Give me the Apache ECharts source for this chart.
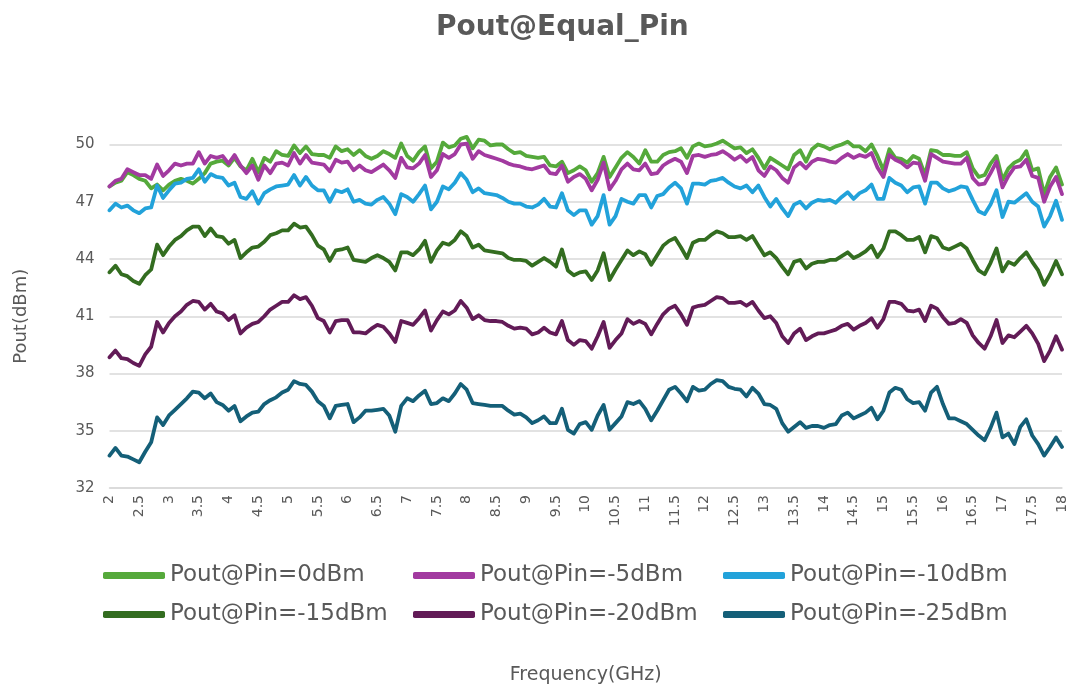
<!DOCTYPE html>
<html>
<head>
<meta charset="utf-8">
<title>Pout@Equal_Pin</title>
<script src="https://cdn.jsdelivr.net/npm/echarts@6/dist/echarts.min.js"></script>
<style>
  html, body { margin: 0; padding: 0; background: #fff; }
  #main { width: 1071px; height: 690px; }
</style>
</head>
<body>
<div id="main"></div>
<script>
// frequency axis: 2 .. 18 GHz in 0.1 GHz steps, label every 0.5 GHz
const fStart = 2, fStep = 0.1, fCount = 161;
const freqs = [];
for (let i = 0; i < fCount; i++) freqs.push(String(+(fStart + i * fStep).toFixed(1)));

const names = ['Pout@Pin=0dBm', 'Pout@Pin=-5dBm', 'Pout@Pin=-10dBm',
               'Pout@Pin=-15dBm', 'Pout@Pin=-20dBm', 'Pout@Pin=-25dBm'];
const colors = ['#55a93b', '#a23aa0', '#22a2da', '#336d20', '#621b57', '#145f78'];
const yTicks = [32, 35, 38, 41, 44, 47, 50];

const pin0 = [
  47.8, 48.0, 48.1, 48.55, 48.4, 48.2, 48.1, 47.7, 47.9, 47.6, 47.9, 48.1, 48.2, 48.1, 47.95, 48.2, 48.5, 49.0, 49.1, 49.15, 48.9, 49.3, 48.85, 48.65, 49.25, 48.55, 49.3,
  49.1, 49.65, 49.45, 49.4, 49.95, 49.55, 49.9, 49.5, 49.45, 49.45, 49.3, 49.9, 49.65, 49.75, 49.45, 49.7, 49.4, 49.25, 49.4, 49.65, 49.5, 49.3, 50.05, 49.4, 49.15, 49.6,
  49.9, 48.75, 49.1, 50.1, 49.85, 49.95, 50.3, 50.4, 49.8, 50.25, 50.2, 49.95, 50.0, 50.0, 49.75, 49.55, 49.6, 49.4, 49.35, 49.3, 49.35, 48.9, 48.85, 49.1, 48.5, 48.65, 48.85,
  48.65, 48.05, 48.5, 49.35, 48.3, 48.8, 49.3, 49.6, 49.35, 49.0, 49.7, 49.1, 49.1, 49.45, 49.6, 49.65, 49.8, 49.3, 49.9, 50.05, 49.9, 49.95, 50.05, 50.2, 50.0, 49.8,
  49.85, 49.55, 49.75, 49.3, 48.75, 49.3, 49.1, 48.9, 48.7, 49.45, 49.7, 49.1, 49.75, 50.0, 49.9, 49.75, 49.9, 50.0, 50.15, 49.9, 49.9, 49.65, 50.0, 49.4, 48.65, 49.75,
  49.3, 49.25, 49.05, 49.4, 49.25, 48.4, 49.7, 49.65, 49.45, 49.45, 49.4, 49.4, 49.6, 48.75, 48.3, 48.4, 49.0, 49.4, 48.15, 48.75, 49.05, 49.2, 49.65, 48.65, 48.75, 47.4, 48.3, 48.8, 47.9
];
const pin5 = [
  47.8, 48.1, 48.2, 48.7, 48.55, 48.4, 48.4, 48.2, 48.95, 48.35, 48.65, 49.0, 48.9, 49.0, 49.0, 49.6, 49.0, 49.4, 49.3, 49.4, 49.0, 49.45, 48.9, 48.5, 48.9, 48.15, 48.9,
  48.5, 49.0, 49.05, 48.9, 49.55, 49.0, 49.45, 49.05, 49.0, 48.95, 48.6, 49.2, 49.05, 49.1, 48.65, 48.9, 48.65, 48.55, 48.75, 48.95, 48.65, 48.25, 49.3, 48.8, 48.75, 49.0,
  49.45, 48.3, 48.65, 49.5, 49.3, 49.5, 50.0, 50.05, 49.25, 49.65, 49.45, 49.35, 49.25, 49.15, 49.0, 48.9, 48.85, 48.75, 48.7, 48.8, 48.9, 48.5, 48.45, 48.9, 48.05, 48.3, 48.45,
  48.2, 47.6, 48.15, 49.05, 47.65, 48.1, 48.7, 49.0, 48.7, 48.65, 49.0, 48.45, 48.5, 48.9, 49.1, 49.25, 49.1, 48.5, 49.4, 49.45, 49.35, 49.45, 49.5, 49.65, 49.45, 49.2,
  49.4, 49.1, 49.35, 48.65, 48.35, 48.85, 48.65, 48.25, 48.0, 48.8, 49.05, 48.75, 49.1, 49.25, 49.2, 49.1, 49.05, 49.3, 49.5, 49.3, 49.45, 49.35, 49.55, 48.8, 48.3, 49.45,
  49.2, 49.05, 48.8, 49.05, 49.0, 48.1, 49.5, 49.3, 49.1, 49.05, 49.0, 49.0, 49.3, 48.25, 47.9, 47.95, 48.5, 49.1, 47.75, 48.35, 48.8, 48.85, 49.2, 48.35, 48.25, 47.0, 47.8, 48.3, 47.4
];
const pin10 = [
  46.55, 46.9, 46.7, 46.8, 46.55, 46.4, 46.65, 46.7, 47.85, 47.2, 47.6, 47.95, 48.0, 48.2, 48.25, 48.7, 48.05, 48.45, 48.3, 48.25, 47.85, 48.0, 47.25, 47.15, 47.55, 46.9, 47.45,
  47.65, 47.8, 47.85, 47.9, 48.4, 47.85, 48.3, 47.85, 47.6, 47.6, 47.0, 47.6, 47.5, 47.65, 47.0, 47.1, 46.9, 46.85, 47.1, 47.25, 46.9, 46.35, 47.4, 47.25, 47.0, 47.4,
  47.85, 46.6, 47.0, 47.8, 47.65, 48.0, 48.5, 48.15, 47.5, 47.7, 47.45, 47.4, 47.35, 47.2, 47.0, 46.9, 46.9, 46.75, 46.7, 46.85, 47.15, 46.75, 46.7, 47.45, 46.55, 46.3, 46.55,
  46.55, 45.8, 46.25, 47.35, 45.8, 46.25, 47.15, 47.0, 46.9, 47.35, 47.35, 46.7, 47.3, 47.4, 47.75, 48.0, 47.7, 46.9, 47.95, 47.95, 47.9, 48.1, 48.15, 48.25, 48.0, 47.8,
  47.7, 47.85, 47.5, 47.85, 47.25, 46.75, 47.15, 46.65, 46.25, 46.85, 47.0, 46.65, 46.95, 47.1, 47.05, 47.1, 46.95, 47.25, 47.5, 47.15, 47.45, 47.6, 47.9, 47.15, 47.15, 48.25,
  48.0, 47.85, 47.5, 47.75, 47.8, 46.9, 48.0, 48.0, 47.7, 47.55, 47.65, 47.8, 47.75, 47.1, 46.5, 46.35, 46.85, 47.6, 46.2, 47.0, 46.95, 47.2, 47.45, 47.0, 46.75, 45.7, 46.25, 47.05, 46.05
];
const pin15 = [
  43.3, 43.65, 43.2, 43.1, 42.85, 42.7, 43.15, 43.45, 44.75, 44.2, 44.65, 45.0, 45.2, 45.5, 45.7, 45.7, 45.2, 45.6, 45.2, 45.15, 44.8, 45.0, 44.05, 44.35, 44.6, 44.65, 44.9,
  45.25, 45.35, 45.5, 45.5, 45.85, 45.65, 45.7, 45.25, 44.7, 44.5, 43.9, 44.45, 44.5, 44.6, 43.95, 43.9, 43.85, 44.05, 44.2, 44.05, 43.85, 43.4, 44.35, 44.35, 44.2, 44.5,
  44.95, 43.85, 44.45, 44.85, 44.75, 45.0, 45.45, 45.2, 44.6, 44.75, 44.45, 44.4, 44.35, 44.3, 44.05, 43.95, 43.95, 43.9, 43.65, 43.85, 44.05, 43.85, 43.6, 44.5, 43.4, 43.15, 43.3,
  43.35, 42.9, 43.4, 44.3, 42.9, 43.45, 43.95, 44.45, 44.2, 44.4, 44.25, 43.7, 44.2, 44.7, 44.95, 45.1, 44.6, 44.05, 44.85, 45.0, 45.0, 45.25, 45.45, 45.35, 45.15, 45.15,
  45.2, 45.0, 45.2, 44.7, 44.2, 44.35, 44.05, 43.6, 43.2, 43.85, 43.95, 43.5, 43.75, 43.85, 43.85, 43.95, 43.95, 44.15, 44.35, 44.05, 44.2, 44.4, 44.7, 44.1, 44.55, 45.45,
  45.45, 45.25, 45.0, 45.0, 45.15, 44.35, 45.2, 45.1, 44.6, 44.5, 44.65, 44.8, 44.55, 43.95, 43.4, 43.2, 43.8, 44.55, 43.35, 43.85, 43.7, 44.05, 44.35, 43.85, 43.4, 42.65, 43.2, 43.9, 43.2
];
const pin20 = [
  38.85, 39.2, 38.8, 38.75, 38.55, 38.4, 39.0, 39.4, 40.7, 40.15, 40.65, 41.0, 41.25, 41.6, 41.8, 41.75, 41.35, 41.65, 41.25, 41.15, 40.8, 41.05, 40.1, 40.4, 40.6, 40.7, 41.0,
  41.35, 41.55, 41.75, 41.75, 42.1, 41.9, 42.0, 41.55, 40.9, 40.75, 40.15, 40.75, 40.8, 40.8, 40.15, 40.15, 40.1, 40.35, 40.55, 40.45, 40.1, 39.65, 40.75, 40.65, 40.55, 40.9,
  41.3, 40.25, 40.8, 41.25, 41.1, 41.3, 41.8, 41.45, 40.85, 41.05, 40.8, 40.75, 40.75, 40.7, 40.5, 40.35, 40.4, 40.35, 40.05, 40.15, 40.4, 40.15, 40.05, 40.75, 39.75, 39.5, 39.75,
  39.7, 39.3, 39.95, 40.7, 39.35, 39.75, 40.1, 40.85, 40.6, 40.75, 40.6, 40.05, 40.6, 41.1, 41.4, 41.55, 41.1, 40.55, 41.45, 41.55, 41.6, 41.8, 42.0, 41.95, 41.7, 41.7,
  41.75, 41.55, 41.75, 41.3, 40.9, 41.0, 40.65, 39.95, 39.6, 40.1, 40.35, 39.75, 39.95, 40.1, 40.1, 40.2, 40.3, 40.5, 40.6, 40.3, 40.5, 40.65, 40.9, 40.4, 40.85, 41.75,
  41.75, 41.65, 41.3, 41.25, 41.35, 40.75, 41.55, 41.4, 40.95, 40.6, 40.65, 40.85, 40.65, 40.0, 39.6, 39.3, 39.95, 40.8, 39.6, 40.0, 39.9, 40.2, 40.5, 40.1, 39.55, 38.65, 39.2, 39.95, 39.25
];
const pin25 = [
  33.7, 34.1, 33.7, 33.65, 33.5, 33.35, 33.9, 34.4, 35.7, 35.3, 35.8, 36.1, 36.4, 36.7, 37.05, 37.0, 36.7, 36.95, 36.5, 36.35, 36.05, 36.3, 35.5, 35.75, 35.95, 36.0, 36.4,
  36.6, 36.75, 37.0, 37.15, 37.6, 37.45, 37.4, 37.05, 36.55, 36.3, 35.65, 36.3, 36.35, 36.4, 35.45, 35.7, 36.05, 36.05, 36.1, 36.15, 35.8, 34.95, 36.3, 36.7, 36.55, 36.85,
  37.1, 36.4, 36.45, 36.7, 36.55, 36.95, 37.45, 37.15, 36.45, 36.4, 36.35, 36.3, 36.3, 36.3, 36.05, 35.85, 35.9, 35.7, 35.4, 35.55, 35.75, 35.4, 35.4, 36.15, 35.05, 34.85, 35.35,
  35.45, 35.05, 35.8, 36.35, 35.05, 35.4, 35.75, 36.5, 36.4, 36.55, 36.15, 35.55, 36.05, 36.6, 37.15, 37.3, 36.95, 36.55, 37.3, 37.1, 37.15, 37.45, 37.65, 37.6, 37.3, 37.2,
  37.15, 36.8, 37.25, 36.95, 36.4, 36.35, 36.15, 35.4, 34.95, 35.2, 35.45, 35.15, 35.25, 35.25, 35.15, 35.3, 35.35, 35.8, 35.95, 35.65, 35.8, 35.95, 36.2, 35.6, 36.05, 37.0,
  37.25, 37.15, 36.65, 36.45, 36.5, 36.05, 37.0, 37.3, 36.4, 35.65, 35.65, 35.5, 35.35, 35.05, 34.75, 34.5, 35.15, 35.95, 34.65, 34.85, 34.3, 35.2, 35.6, 34.75, 34.3, 33.7, 34.15, 34.65, 34.15
];

const seriesData = [pin0, pin5, pin10, pin15, pin20, pin25];
const txt = '#595959';

const chart = echarts.init(document.getElementById('main'));
chart.setOption({
  animation: false,
  backgroundColor: '#fff',
  color: colors,
  title: {
    text: 'Pout@Equal_Pin',
    left: 431,
    top: 9,
    textStyle: { fontFamily: 'DejaVu Sans', fontWeight: 'bold', fontSize: 28, color: txt }
  },
  grid: { left: 109.5, right: 9, top: 144.5, bottom: 181.7, containLabel: false },
  // one legend per item so the 3x2 layout sits on fixed columns
  legend: names.map((n, k) => ({
    data: [n],
    left: 103 + (k % 3) * 310,
    top: 564 + Math.floor(k / 3) * 39,
    padding: 0,
    icon: 'roundRect',
    itemWidth: 62,
    itemHeight: 7,
    itemGap: 0,
    textStyle: { fontFamily: 'DejaVu Sans', fontSize: 23, color: txt }
  })),
  xAxis: {
    type: 'category',
    data: freqs,
    boundaryGap: false,
    name: 'Frequency(GHz)',
    nameLocation: 'middle',
    nameGap: 178,
    nameTextStyle: { fontFamily: 'DejaVu Sans', fontSize: 19, color: txt },
    axisLine: { lineStyle: { color: '#d9d9d9', width: 1.5 } },
    axisTick: { show: false },
    axisLabel: {
      interval: 4,
      rotate: 90,
      margin: 7,
      fontFamily: 'DejaVu Sans',
      fontSize: 14,
      color: txt
    },
    splitLine: { show: false }
  },
  yAxis: {
    type: 'value',
    min: yTicks[0],
    max: yTicks[yTicks.length - 1],
    interval: 3,
    name: 'Pout(dBm)',
    nameLocation: 'middle',
    nameGap: 79,
    nameTextStyle: { fontFamily: 'DejaVu Sans', fontSize: 18, color: txt },
    axisLine: { show: false },
    axisTick: { show: false },
    axisLabel: { margin: 15, fontFamily: 'DejaVu Sans', fontSize: 15, color: txt },
    splitLine: { lineStyle: { color: '#d9d9d9', width: 1.5 } }
  },
  series: names.map((n, k) => ({
    name: n,
    type: 'line',
    data: seriesData[k],
    symbol: 'none',
    smooth: false,
    clip: false,
    lineStyle: { width: 3.8, color: colors[k], cap: 'round', join: 'round' }
  }))
});
</script>
</body>
</html>
